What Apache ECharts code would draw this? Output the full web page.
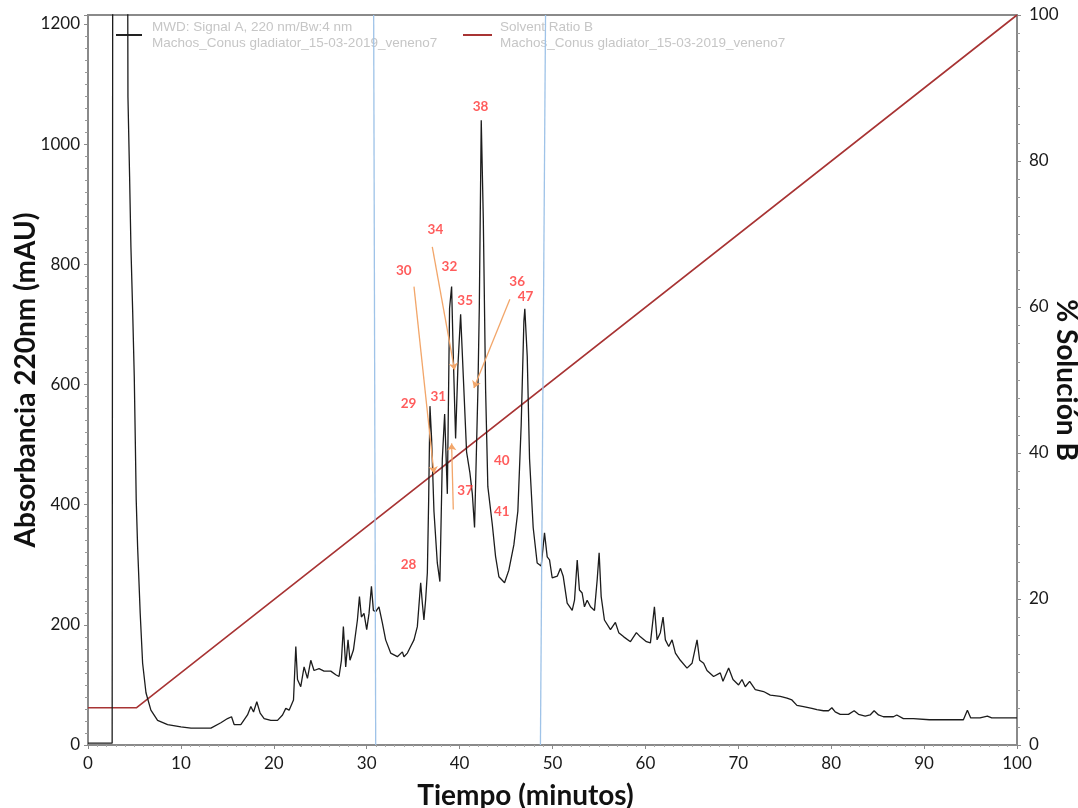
<!DOCTYPE html>
<html>
<head>
<meta charset="utf-8">
<script src="https://cdn.jsdelivr.net/npm/echarts@6/dist/echarts.min.js"></script>
<style>
  html, body { margin: 0; padding: 0; background: #ffffff; }
  #chart { width: 1078px; height: 808px; }
</style>
</head>
<body>
<div id="chart"></div>
<script>
// ---- Data ----
const timeMin = [0, 2.6, 2.66, 4.27, 4.30, 4.48, 4.62, 4.81, 4.98, 5.09, 5.19, 5.34, 5.62, 5.88, 6.24, 6.77, 7.49, 8.57, 10.0, 11.08,
  13.23, 14.3, 15.02, 15.45, 15.73, 16.45, 17.17, 17.53, 17.82, 18.17, 18.53, 18.96, 19.68, 20.4, 20.94, 21.29, 21.65, 22.12, 22.37, 22.55,
  22.9, 23.26, 23.62, 23.98, 24.33, 24.87, 25.41, 26.13, 26.67, 27.02, 27.28, 27.49, 27.74, 27.99, 28.2, 28.57, 29.0, 29.22, 29.43, 29.71,
  30.0, 30.25, 30.51, 30.72, 30.97, 31.32, 31.69, 32.04, 32.58, 33.3, 33.84, 34.01, 34.38, 34.73, 35.09, 35.45, 35.81, 35.99, 36.16, 36.34,
  36.53, 36.67, 36.81, 36.99, 37.24, 37.6, 37.88, 38.14, 38.39, 38.68, 38.92, 39.14, 39.32, 39.57, 39.82, 40.11, 40.4, 40.75, 41.11, 41.37,
  41.61, 41.97, 42.12, 42.33, 42.55, 42.8, 43.04, 43.52, 43.87, 44.23, 44.84, 45.3, 45.84, 46.27, 46.63, 46.92, 47.02, 47.28, 47.53, 47.92,
  48.35, 48.78, 49.14, 49.43, 49.68, 49.97, 50.51, 50.86, 51.15, 51.58, 52.12, 52.37, 52.66, 52.9, 53.19, 53.44, 53.73, 54.09, 54.52, 54.81,
  55.02, 55.24, 55.59, 56.24, 56.77, 57.13, 57.67, 58.39, 59.03, 59.46, 60.11, 60.54, 60.97, 61.26, 61.61, 61.9, 62.15, 62.51, 62.87, 63.23,
  63.76, 64.48, 65.02, 65.56, 65.84, 66.27, 66.63, 67.34, 68.06, 68.35, 68.96, 69.43, 70.03, 70.4, 70.75, 71.22, 71.83, 72.72, 73.44, 74.52,
  75.24, 75.77, 76.31, 77.02, 77.92, 78.46, 79.17, 79.71, 80.07, 80.43, 80.97, 81.86, 82.47, 82.94, 83.66, 84.19, 84.62, 85.09, 85.62, 86.7,
  87.06, 87.77, 88.85, 90.57, 91.37, 94.23, 94.66, 95.02, 96.02, 96.81, 97.28, 100];
const absorbance = [3, 3, 1300, 1300, 1079, 944, 829, 721, 613, 508, 408, 330, 219, 136, 87, 58, 41, 34, 30, 28,
  28, 37, 44, 47, 34, 34, 50, 64, 55, 72, 53, 44, 41, 41, 50, 61, 58, 75, 164, 109,
  97, 130, 111, 141, 124, 127, 123, 123, 117, 114, 141, 197, 130, 175, 141, 158, 208, 247, 213, 219,
  192, 219, 264, 224, 222, 230, 203, 175, 153, 147, 155, 147, 153, 164, 175, 197, 270, 236, 208, 241,
  287, 408, 564, 508, 389, 303, 272, 476, 551, 418, 727, 763, 647, 510, 631, 717, 613, 488, 453, 418,
  362, 591, 727, 1040, 877, 591, 430, 367, 314, 280, 270, 291, 333, 389, 533, 705, 726, 647, 476, 362,
  303, 298, 353, 313, 308, 278, 281, 294, 281, 236, 224, 241, 308, 258, 253, 230, 241, 230, 224, 275,
  320, 247, 208, 192, 204, 187, 180, 172, 187, 180, 172, 170, 230, 175, 187, 213, 175, 164, 175, 153,
  141, 128, 136, 175, 141, 136, 124, 114, 120, 106, 128, 109, 100, 109, 97, 106, 92, 89, 83, 81,
  78, 75, 66, 64, 61, 59, 57, 57, 62, 55, 51, 51, 57, 51, 48, 50, 57, 50, 47, 47,
  50, 44, 44, 42, 42, 42, 58, 45, 45, 48, 45, 45];

const solventTime = [0, 5.2, 100];
const solventB = [5.1, 5.1, 100];

const xTicks = [0, 10, 20, 30, 40, 50, 60, 70, 80, 90, 100];
const leftTicks = [0, 200, 400, 600, 800, 1000, 1200];
const rightTicks = [0, 20, 40, 60, 80, 100];

// Peak labels: [time, absorbance, text]
const peakLabels = [
  [42.26, 1063, '38'], [37.4, 858, '34'], [38.9, 797, '32'], [34.0, 789, '30'],
  [46.2, 771, '36'], [47.1, 746, '47'], [40.6, 739, '35'], [34.5, 568, '29'],
  [37.7, 579, '31'], [44.55, 473, '40'], [40.6, 424, '37'], [44.55, 389, '41'],
  [34.5, 301, '28']
];
// Orange arrows: [fromTime, fromAbs, toTime, toAbs]
const arrows = [
  [35.09, 763, 37.24, 452],
  [37.06, 829, 39.46, 624],
  [45.41, 742, 41.54, 594],
  [39.32, 392, 39.14, 502]
];
// Blue reference lines: [topTime, bottomTime]
const refLines = [[30.75, 30.97], [49.25, 48.7]];

const signalName = 'MWD: Signal A, 220 nm/Bw:4 nm';
const solventName = 'Solvent Ratio B';
const sampleName = 'Machos_Conus gladiator_15-03-2019_veneno7';

const Y_MAX = 1215;

const chart = echarts.init(document.getElementById('chart'), null, { renderer: 'canvas' });

const axisGray = '#8a8a8a';
const labelFont = { color: '#1a1a1a', fontSize: 17, fontFamily: 'Lato, "Liberation Sans", sans-serif' };
const titleFont = { color: '#111', fontSize: 28, fontWeight: 'bold', fontFamily: 'Lato, "Liberation Sans", sans-serif' };

const option = {
  animation: false,
  backgroundColor: '#ffffff',
  grid: {
    left: 88, right: 61, top: 15, bottom: 63, containLabel: false, outerBoundsMode: 'none',
    show: true, borderColor: axisGray, borderWidth: 2, backgroundColor: 'transparent'
  },
  legend: [
    {
      data: [signalName], left: 116, top: 19, padding: 0, itemWidth: 26, itemHeight: 2, icon: 'rect',
      itemStyle: { color: '#222' },
      formatter: n => n + '\n' + sampleName,
      textStyle: { color: '#c6c6c6', fontSize: 13.5, lineHeight: 16, fontFamily: '"Liberation Sans", sans-serif', padding: [0, 0, 0, 5] },
      selectedMode: false
    },
    {
      data: [solventName], left: 463, top: 19, padding: 0, itemWidth: 29, itemHeight: 2, icon: 'rect',
      itemStyle: { color: '#a83434' },
      formatter: n => n + '\n' + sampleName,
      textStyle: { color: '#c6c6c6', fontSize: 13.5, lineHeight: 16, fontFamily: '"Liberation Sans", sans-serif', padding: [0, 0, 0, 3] },
      selectedMode: false
    }
  ],
  xAxis: {
    type: 'value', min: 0, max: 100, interval: 10,
    name: 'Tiempo (minutos)', nameLocation: 'middle', nameGap: 51, nameMoveOverlap: false,
    nameTextStyle: { ...titleFont, verticalAlign: 'middle', padding: [0, 54, 0, 0] },
    axisLine: { lineStyle: { color: axisGray, width: 2 } },
    axisTick: { show: true, length: 4, lineStyle: { color: axisGray } },
    minorTick: { show: true, splitNumber: 10, length: 2, lineStyle: { color: '#aaa' } },
    axisLabel: { ...labelFont, margin: 10, formatter: v => xTicks.includes(v) ? String(v) : '' },
    splitLine: { show: false }
  },
  yAxis: [
    {
      type: 'value', min: 0, max: Y_MAX, interval: 200,
      name: 'Absorbancia 220nm (mAU)', nameLocation: 'middle', nameGap: 62, nameRotate: 90, nameMoveOverlap: false,
      nameTextStyle: { ...titleFont, verticalAlign: 'middle' },
      axisLine: { show: true, lineStyle: { color: axisGray, width: 2 } },
      axisTick: { show: true, length: 4, lineStyle: { color: axisGray } },
      minorTick: { show: true, splitNumber: 10, length: 3, lineStyle: { color: '#999' } },
      axisLabel: { ...labelFont, margin: 8, formatter: v => leftTicks.includes(v) ? String(v) : '' },
      splitLine: { show: false }
    },
    {
      type: 'value', min: 0, max: 100, interval: 20, position: 'right',
      name: '% Solución B', nameLocation: 'middle', nameGap: 49, nameRotate: -90, nameMoveOverlap: false,
      nameTextStyle: { ...titleFont, verticalAlign: 'middle' },
      axisLine: { show: true, lineStyle: { color: axisGray, width: 2 } },
      axisTick: { show: true, length: 4, lineStyle: { color: axisGray } },
      minorTick: { show: true, splitNumber: 8, length: 3, lineStyle: { color: '#999' } },
      axisLabel: { ...labelFont, margin: 12, formatter: v => rightTicks.includes(v) ? String(v) : '' },
      splitLine: { show: false }
    }
  ],
  series: [
    {
      name: 'refs', type: 'line', data: [], silent: true,
      markLine: {
        silent: true, symbol: 'none', label: { show: false },
        lineStyle: { color: '#9fc3e8', width: 1.3, type: 'solid' },
        data: refLines.map(r => [{ coord: [r[0], Y_MAX] }, { coord: [r[1], 0] }])
      }
    },
    {
      name: solventName, type: 'line', yAxisIndex: 1, showSymbol: false, symbol: 'none',
      data: solventTime.map((t, i) => [t, solventB[i]]),
      lineStyle: { color: '#a83434', width: 1.6 }, itemStyle: { color: '#a83434' }, z: 3
    },
    {
      name: signalName, type: 'line', showSymbol: false, symbol: 'none', clip: true,
      data: timeMin.map((t, i) => [t, absorbance[i]]),
      lineStyle: { color: '#1c1c1c', width: 1.3 }, itemStyle: { color: '#222' }, z: 4
    },
    {
      name: 'arrows', type: 'line', data: [], silent: true, z: 5,
      markLine: {
        silent: true, label: { show: false }, symbolSize: 7,
        lineStyle: { color: '#f2a66a', width: 1.3, type: 'solid' },
        data: arrows.map(a => [{ coord: [a[0], a[1]], symbol: 'none' }, { coord: [a[2], a[3]], symbol: 'arrow' }])
      }
    },
    {
      name: 'peaks', type: 'scatter', symbolSize: 0, silent: true, z: 6,
      data: peakLabels,
      label: {
        show: true, position: 'inside', formatter: p => p.value[2],
        color: '#ff3333', fontSize: 13.5, fontWeight: 'bold', fontFamily: 'Lato, "Liberation Sans", sans-serif'
      }
    }
  ]
};
chart.setOption(option);
</script>
</body>
</html>
